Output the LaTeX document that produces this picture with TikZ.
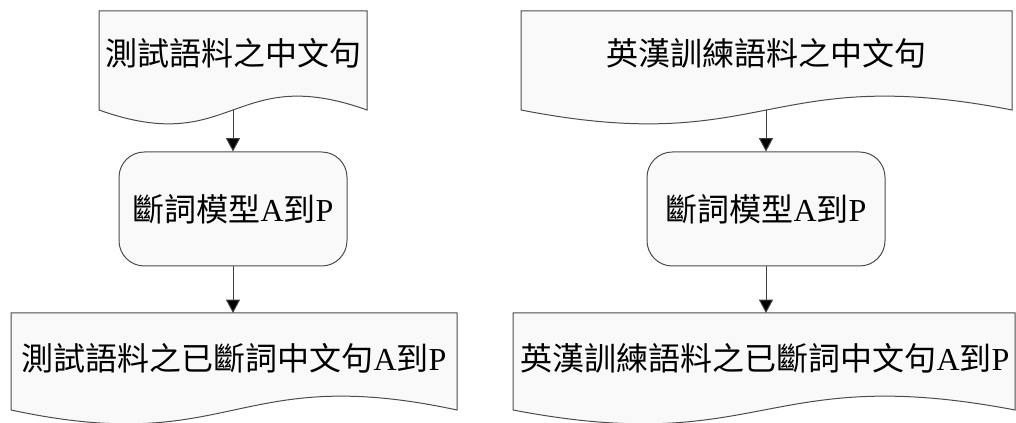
\documentclass[tikz,border=0pt]{standalone}
\usepackage{fontspec}
\setmainfont{Liberation Serif}
\newfontfamily\cjk{Noto Sans CJK TC}
\usetikzlibrary{arrows.meta}
\tikzset{
  docshape/.style={draw=black!70, fill=black!2.5, line width=0.75pt},
  procbox/.style={draw=black!70, fill=black!2.5, line width=0.75pt, rounded corners=19pt,
    minimum height=85.5pt, inner sep=0pt, font=\fontsize{24}{28}\selectfont},
  lbl/.style={font=\fontsize{24}{28}\selectfont, inner sep=0pt},
  flow/.style={draw=black!75, line width=0.75pt, -{Triangle[length=10pt,width=10.5pt,fill=black]}}
}
\newcommand\mydoc[4]{%
  \path[docshape] (#1,#4) -- (#1,#3) -- (#2,#3) -- (#2,#4)
    .. controls ({(#1+#2)/2},{#4-48}) and ({(#1+#2)/2},{#4+48}) .. (#1,#4) -- cycle;}
\begin{document}
\begin{tikzpicture}[x=0.75pt,y=-0.75pt]
\useasboundingbox (0,0) rectangle (1016,423);
% left column
\mydoc{99}{367}{11}{110}
\node[lbl] (t1) at (233,53) {\cjk 測試語料之中文句};
\coordinate (t1w) at (233,110);
\node[procbox, minimum width=171pt] (m1) at (233,209) {{\cjk 斷詞模型}A{\cjk 到}P};
\mydoc{11}{457}{313}{410}
\coordinate (b1top) at (233,313);
\node[lbl] (b1) at (234,358) {{\cjk 測試語料之已斷詞中文句}A{\cjk 到}P};
\draw[flow] (t1w) -- (m1.north);
\draw[flow] (m1.south) -- (b1top);
% right column
\mydoc{521}{1012}{11}{110}
\node[lbl] (t2) at (766,53) {\cjk 英漢訓練語料之中文句};
\coordinate (t2w) at (766,110);
\node[procbox, minimum width=178.5pt] (m2) at (766,209) {{\cjk 斷詞模型}A{\cjk 到}P};
\mydoc{513}{1015}{313}{410}
\coordinate (b2top) at (766,313);
\node[lbl] (b2) at (765,358) {{\cjk 英漢訓練語料之已斷詞中文句}A{\cjk 到}P};
\draw[flow] (t2w) -- (m2.north);
\draw[flow] (m2.south) -- (b2top);
\end{tikzpicture}
\end{document}
